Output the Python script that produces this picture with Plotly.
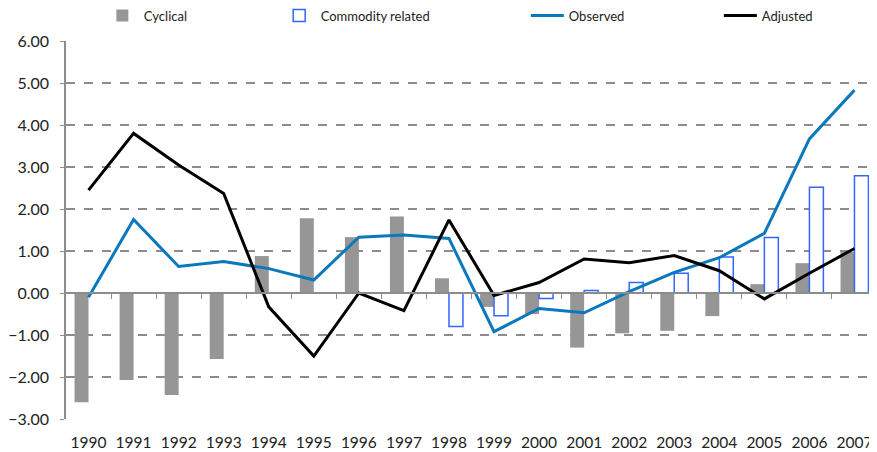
import plotly.graph_objects as go

years = [str(y) for y in range(1990, 2008)]
cyclical = [-2.60, -2.07, -2.43, -1.57, 0.88, 1.78, 1.33, 1.82, 0.35, -0.33,
            -0.50, -1.30, -0.96, -0.90, -0.55, 0.21, 0.71, 0.98]
commodity = [None, None, None, None, None, None, None, None, -0.80, -0.54,
             -0.13, 0.06, 0.25, 0.47, 0.86, 1.32, 2.52, 2.79]
observed = [-0.10, 1.75, 0.63, 0.75, 0.58, 0.31, 1.33, 1.38, 1.30, -0.92,
            -0.37, -0.47, 0.03, 0.49, 0.84, 1.42, 3.67, 4.83]
adjusted = [2.45, 3.80, 3.05, 2.37, -0.33, -1.50, 0.00, -0.42, 1.74, -0.06,
            0.25, 0.81, 0.72, 0.89, 0.53, -0.14, 0.47, 1.06]

idx = list(range(len(years)))
font = "Lato, 'Open Sans', sans-serif"

fig = go.Figure()
fig.add_trace(go.Bar(x=idx, y=cyclical, name="Cyclical", legend="legend",
                     marker=dict(color="#969696", line=dict(width=0))))
fig.add_trace(go.Bar(x=idx, y=commodity, name="Commodity related", legend="legend2",
                     marker=dict(color="white", line=dict(color="#3366ff", width=1.5))))
fig.add_trace(go.Scatter(x=idx, y=observed, name="Observed", mode="lines", legend="legend3",
                         line=dict(color="#0a78bd", width=3)))
fig.add_trace(go.Scatter(x=idx, y=adjusted, name="Adjusted", mode="lines", legend="legend4",
                         line=dict(color="black", width=3)))
# invisible trace carrying the year labels on the bottom axis
fig.add_trace(go.Scatter(x=idx, y=[0] * len(idx), xaxis="x2", mode="none",
                         showlegend=False, hoverinfo="skip"))

leg = dict(orientation="h", yref="container", y=0.983, yanchor="middle",
           xref="paper", xanchor="left",
           font=dict(size=13, color="#222222"), itemwidth=33,
           bgcolor="rgba(0,0,0,0)")

fig.update_layout(
    width=869, height=444,
    margin=dict(l=56, r=0, t=33, b=33),
    plot_bgcolor="white", paper_bgcolor="white",
    barmode="group", bargap=0.38, bargroupgap=0,
    font=dict(family=font, color="#222222"),
    showlegend=True,
    legend=dict(leg, x=0.043),
    legend2=dict(leg, x=0.261),
    legend3=dict(leg, x=0.567),
    legend4=dict(leg, x=0.805),
    xaxis=dict(range=[-0.5, 17.5], anchor="free", position=1 / 3,
               showticklabels=False, showgrid=False, zeroline=False,
               showline=True, linecolor="#8c8c8c", linewidth=1.5,
               ticks="outside", ticklen=5, tickcolor="#8c8c8c",
               tickvals=[i + 0.5 for i in idx[:-1]]),
    xaxis2=dict(range=[-0.5, 17.5], overlaying="x", anchor="y", side="bottom",
                tickvals=idx, ticktext=years, showgrid=False, zeroline=False,
                showline=False, ticks="", ticklabelstandoff=12,
                tickfont=dict(size=15.5, color="#222222")),
    yaxis=dict(range=[-3, 6], dtick=1, tickformat=".2f",
               showgrid=True, gridcolor="#8c8c8c", gridwidth=1.5, griddash="dash",
               zeroline=False, showline=True, linecolor="#8c8c8c", linewidth=1.5,
               ticks="outside", ticklen=4, tickcolor="#8c8c8c",
               ticklabelstandoff=8,
               tickfont=dict(size=16, color="#222222")),
)

fig.write_html("out.html")
